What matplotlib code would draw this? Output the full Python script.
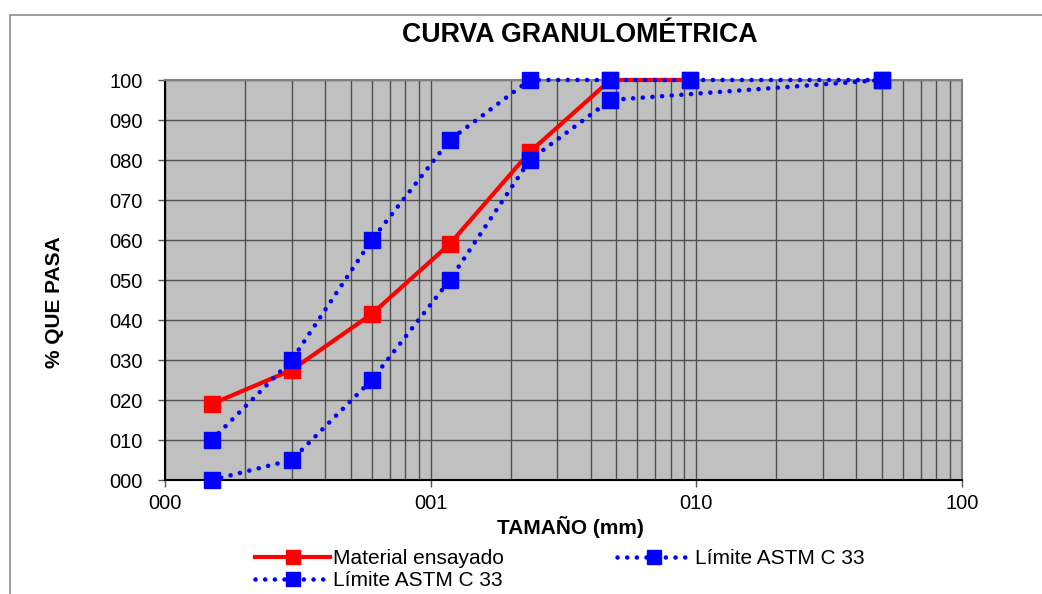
import matplotlib.pyplot as plt
from matplotlib.ticker import FixedLocator, LogLocator, NullFormatter, FuncFormatter
from matplotlib.patches import Rectangle

plt.rcParams['font.family'] = ['Liberation Sans', 'DejaVu Sans']

# tamices (mm) y porcentaje que pasa
tamiz = [0.15, 0.3, 0.6, 1.18, 2.36, 4.75, 9.5]
material = [19, 27.5, 41.5, 59, 82, 100, 100]

tamiz_sup = [0.15, 0.3, 0.6, 1.18, 2.36, 4.75, 9.5, 50]
limite_sup = [10, 30, 60, 85, 100, 100, 100, 100]

tamiz_inf = [0.15, 0.3, 0.6, 1.18, 2.36, 4.75, 50]
limite_inf = [0, 5, 25, 50, 80, 95, 100]

xticks = [0.1, 1, 10, 100]
yticks = list(range(0, 101, 10))

fig = plt.figure(figsize=(10.42, 5.94), dpi=100)
ax = fig.add_axes([165/1042, 1-480/594, 797/1042, 400/594])
ax.set_facecolor('#c0c0c0')

# marco del grafico
fig.patches.append(Rectangle((10/1042, -0.1), 1.2, 1-15/594+0.1, transform=fig.transFigure,
                             fill=False, edgecolor='#8c8c8c', linewidth=1.2))

dots = (0, (0.01, 2.1))
l1, = ax.plot(tamiz, material, color='#ff0000', lw=3, marker='s', ms=12,
              label='Material ensayado', zorder=4)
l2, = ax.plot(tamiz_sup, limite_sup, color='#0000ff', lw=3.3, ls=dots,
              dash_capstyle='round', marker='s', ms=12, label='Límite ASTM C 33', zorder=5)
l3, = ax.plot(tamiz_inf, limite_inf, color='#0000ff', lw=3.3, ls=dots,
              dash_capstyle='round', marker='s', ms=12, label='Límite ASTM C 33', zorder=5)
for l in (l1, l2, l3):
    l.set_clip_on(False)

ax.set_xscale('log')
ax.set_xlim(0.1, 100)
ax.set_ylim(0, 100)
ax.xaxis.set_major_locator(FixedLocator(xticks))
ax.xaxis.set_minor_locator(LogLocator(base=10, subs=range(2, 10)))
ax.xaxis.set_minor_formatter(NullFormatter())
ax.xaxis.set_major_formatter(FuncFormatter(lambda v, p: f'{v:03.0f}'))
ax.set_yticks(yticks)
ax.yaxis.set_major_formatter(FuncFormatter(lambda v, p: f'{v:03.0f}'))

ax.grid(True, which='both', axis='x', color='#505050', lw=1)
ax.grid(True, which='major', axis='y', color='#505050', lw=1)
ax.set_axisbelow(True)
ax.tick_params(axis='x', which='minor', length=0)
ax.tick_params(axis='both', which='major', length=5, width=1, color='#555555', labelsize=14.5)
ax.tick_params(axis='y', pad=11)
ax.tick_params(axis='x', pad=5)

for s in ('top', 'right'):
    ax.spines[s].set_color('#808080')
    ax.spines[s].set_linewidth(1.5)
for s in ('left', 'bottom'):
    ax.spines[s].set_color('black')
    ax.spines[s].set_linewidth(1.5)

fig.text(580/1042, 1-35/594, 'CURVA GRANULOMÉTRICA', ha='center', va='center',
         fontsize=19.3, fontweight='bold')
fig.text(570/1042, 1-527/594, 'TAMAÑO (mm)', ha='center', va='center',
         fontsize=15, fontweight='bold')
fig.text(55/1042, 1-302/594, '% QUE PASA', ha='center', va='center', rotation=90,
         fontsize=15, fontweight='bold')

fig.legend(handles=[l1, l2, l3], ncol=2, loc='upper left',
           bbox_to_anchor=(255/1042, 1-549/594), frameon=False, fontsize=15,
           numpoints=1, markerscale=0.8, handlelength=3.6, handletextpad=0.15,
           columnspacing=5.4, labelspacing=0.15, borderpad=0, borderaxespad=0)

fig.savefig('out.png', dpi=100)
